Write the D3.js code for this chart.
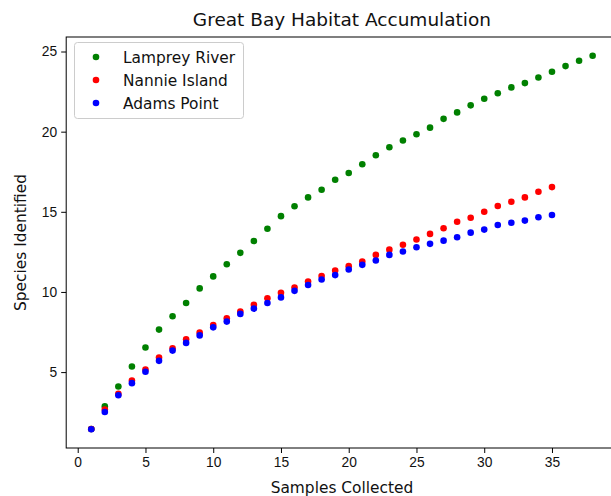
<!DOCTYPE html>
<html>
<head>
<meta charset="utf-8">
<script src="https://cdn.jsdelivr.net/npm/d3@7"></script>
<style>
    body { margin: 0; background: #fff; }
    svg { display: block; font-family: "DejaVu Sans", sans-serif; }
    .tick text { font-size: 13.8px; fill: #111; }
    .tick line { stroke: #000; }
</style>
</head>
<body>
<svg id="chart"></svg>
<script>
    "use strict"
    const width = 611;
    const height = 496;

    // accumulated species counts per sample
    const lamprey = [1.45, 2.86, 4.1, 5.35, 6.53, 7.65, 8.48, 9.31, 10.22, 10.97,
        11.73, 12.44, 13.18, 13.94, 14.73, 15.35, 15.9, 16.38, 17.0, 17.42,
        17.97, 18.53, 19.03, 19.45, 19.84, 20.25, 20.8, 21.2, 21.64, 22.05,
        22.4, 22.76, 23.03, 23.38, 23.74, 24.09, 24.42, 24.74];
    const nannie = [1.45, 2.67, 3.65, 4.48, 5.16, 5.91, 6.49, 7.05, 7.46, 7.94,
        8.36, 8.78, 9.2, 9.6, 9.95, 10.28, 10.65, 10.99, 11.34, 11.61,
        11.9, 12.31, 12.64, 12.94, 13.27, 13.62, 13.97, 14.38, 14.63, 15.0,
        15.36, 15.63, 15.9, 16.25, 16.54];
    const adams = [1.43, 2.51, 3.56, 4.31, 5.02, 5.7, 6.34, 6.82, 7.29, 7.79,
        8.15, 8.63, 8.96, 9.31, 9.66, 10.07, 10.43, 10.78, 11.05, 11.4,
        11.69, 11.96, 12.31, 12.52, 12.79, 13.0, 13.2, 13.41, 13.7, 13.89,
        14.18, 14.32, 14.45, 14.66, 14.8];

    const seriesNames = ["Lamprey River", "Nannie Island", "Adams Point"];
    const seriesColors = ["green", "red", "blue"];
    const xTicks = [0, 5, 10, 15, 20, 25, 30, 35];
    const yTicks = [5, 10, 15, 20, 25];

    const series = [lamprey, nannie, adams].map((vals, i) => ({
        name: seriesNames[i],
        color: seriesColors[i],
        points: vals.map((v, j) => ({ x: j + 1, y: v }))
    }));

    // axes box (right side runs past the window, like the reference)
    const plotLeft = 66.2, plotRight = 617.7, plotTop = 37, plotBottom = 448;

    const allPts = series.flatMap(s => s.points);
    const xExt = d3.extent(allPts, d => d.x);
    const yExt = d3.extent(allPts, d => d.y);
    const xPad = (xExt[1] - xExt[0]) * 0.05;
    const yPad = (yExt[1] - yExt[0]) * 0.05;

    const x = d3.scaleLinear()
        .domain([xExt[0] - xPad, xExt[1] + xPad])
        .range([plotLeft, plotRight]);
    const y = d3.scaleLinear()
        .domain([yExt[0] - yPad, yExt[1] + yPad])
        .range([plotBottom, plotTop]);

    const svg = d3.select("#chart")
        .attr("width", width)
        .attr("height", height);

    svg.append("g")
        .attr("transform", `translate(0,${plotBottom})`)
        .call(d3.axisBottom(x).tickValues(xTicks).tickSize(5).tickPadding(4))
        .call(g => g.select(".domain").remove());

    svg.append("g")
        .attr("transform", `translate(${plotLeft},0)`)
        .call(d3.axisLeft(y).tickValues(yTicks).tickSize(5).tickPadding(4))
        .call(g => g.select(".domain").remove());

    svg.append("rect")
        .attr("x", plotLeft)
        .attr("y", plotTop)
        .attr("width", plotRight - plotLeft)
        .attr("height", plotBottom - plotTop)
        .attr("fill", "none")
        .attr("stroke", "#000")
        .attr("stroke-width", 1);

    series.forEach(s => {
        svg.append("g")
            .selectAll("circle")
            .data(s.points)
            .join("circle")
            .attr("cx", d => x(d.x))
            .attr("cy", d => y(d.y))
            .attr("r", 3.3)
            .attr("fill", s.color);
    });

    // title and axis labels
    svg.append("text")
        .attr("x", (plotLeft + plotRight) / 2)
        .attr("y", 26)
        .attr("text-anchor", "middle")
        .attr("font-size", 18.5)
        .attr("fill", "#111")
        .text("Great Bay Habitat Accumulation");

    svg.append("text")
        .attr("x", (plotLeft + plotRight) / 2)
        .attr("y", 493)
        .attr("text-anchor", "middle")
        .attr("font-size", 15.4)
        .attr("fill", "#111")
        .text("Samples Collected");

    svg.append("text")
        .attr("transform", `translate(26,${(plotTop + plotBottom) / 2}) rotate(-90)`)
        .attr("text-anchor", "middle")
        .attr("font-size", 15.4)
        .attr("fill", "#111")
        .text("Species Identified");

    // legend
    const legend = svg.append("g").attr("transform", "translate(74.5,42.5)");
    legend.append("rect")
        .attr("width", 169)
        .attr("height", 76)
        .attr("rx", 3)
        .attr("fill", "#fff")
        .attr("fill-opacity", 0.8)
        .attr("stroke", "#ccc");

    const items = legend.selectAll(".item")
        .data(series)
        .join("g")
        .attr("class", "item")
        .attr("transform", (d, i) => `translate(0,${14.5 + i * 23})`);

    items.append("circle")
        .attr("cx", 21.5)
        .attr("cy", 0)
        .attr("r", 3.3)
        .attr("fill", d => d.color);

    items.append("text")
        .attr("x", 48.5)
        .attr("y", 5.5)
        .attr("font-size", 15.4)
        .attr("fill", "#111")
        .text(d => d.name);
</script>
</body>
</html>
